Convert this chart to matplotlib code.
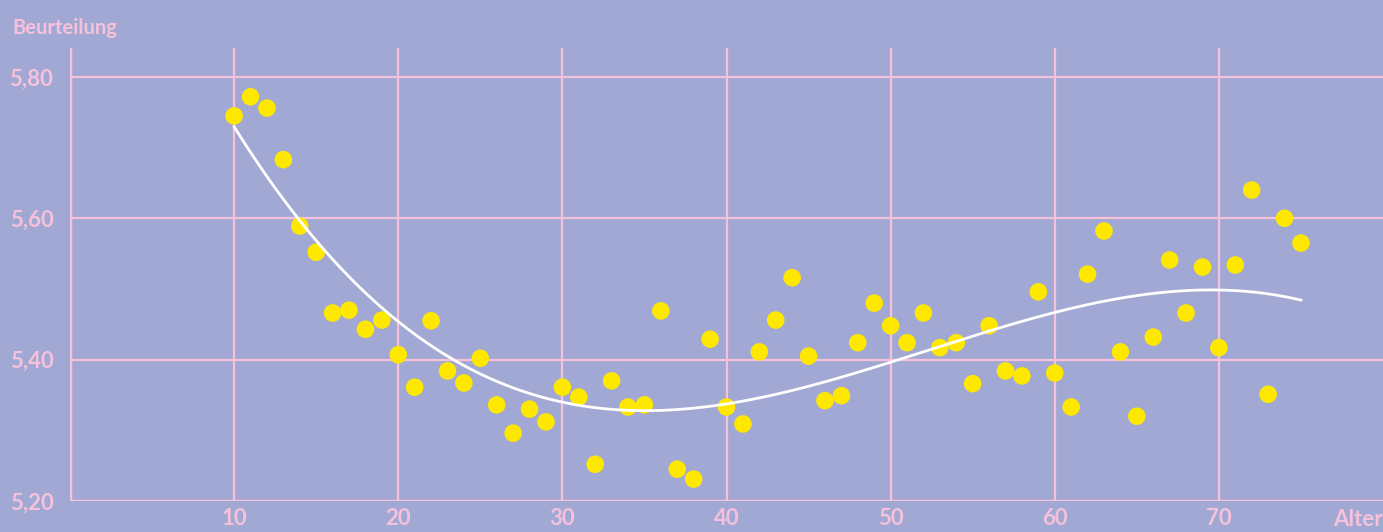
import numpy as np
import matplotlib
matplotlib.use("Agg")
import matplotlib.pyplot as plt

# Alter (x) and Beurteilung (y)
alter = list(range(10, 76))
beurteilung = [5.745, 5.772, 5.756, 5.683, 5.589, 5.552, 5.466, 5.470, 5.443, 5.456,
               5.407, 5.361, 5.455, 5.384, 5.367, 5.402, 5.336, 5.296, 5.330, 5.312,
               5.361, 5.347, 5.252, 5.370, 5.333, 5.336, 5.469, 5.245, 5.231, 5.429,
               5.333, 5.309, 5.411, 5.456, 5.516, 5.405, 5.342, 5.349, 5.424, 5.480,
               5.448, 5.424, 5.466, 5.417, 5.424, 5.366, 5.448, 5.384, 5.377, 5.496,
               5.381, 5.333, 5.521, 5.582, 5.411, 5.320, 5.432, 5.541, 5.466, 5.531,
               5.417, 5.534, 5.640, 5.351, 5.600, 5.565]
x_ticks = [10, 20, 30, 40, 50, 60, 70]
y_ticks = [5.20, 5.40, 5.60, 5.80]
y_labels = ["5,20", "5,40", "5,60", "5,80"]

bg = "#a1a8d3"
pink = "#f6c2db"
yellow = "#ffe800"

plt.rcParams['font.family'] = ['Lato', 'DejaVu Sans']

fig = plt.figure(figsize=(13.83, 5.32), dpi=100, facecolor=bg)
ax = fig.add_axes([70 / 1383, 31 / 532, 1313 / 1383, 453 / 532])
ax.set_facecolor(bg)
ax.set_xlim(0, 80)
ax.set_ylim(5.20, 5.841)

# grid
for t in x_ticks:
    ax.axvline(t, color=pink, lw=1.6, zorder=1)
for t in y_ticks[1:]:
    ax.axhline(t, color=pink, lw=1.6, zorder=1)
for s in ax.spines.values():
    s.set_visible(False)
ax.axvline(0, color=pink, lw=2.5, zorder=1)
ax.axhline(5.20, color=pink, lw=2.5, zorder=1)

# trend curve (cubic fit)
coef = np.polyfit(alter, beurteilung, 3)
xs = np.linspace(10, 75, 300)
ax.plot(xs, np.polyval(coef, xs), color="white", lw=2, zorder=3)

ax.scatter(alter, beurteilung, s=160, color=yellow, edgecolors="none", zorder=2, clip_on=False)

ax.set_xticks(x_ticks)
ax.set_xticklabels([str(t) for t in x_ticks])
ax.set_yticks(y_ticks)
ax.set_yticklabels(y_labels)
ax.tick_params(axis="x", length=0, colors=pink, labelsize=16, pad=5)
ax.tick_params(axis="y", length=0, colors=pink, labelsize=16, pad=12)
for lab in ax.get_xticklabels() + ax.get_yticklabels():
    lab.set_fontweight("bold")

fig.text(12 / 1383, 1 - 28 / 532, "Beurteilung", color=pink, fontsize=14.5,
         fontweight="bold", va="center", ha="left")
fig.text(1383 / 1383, 1 - 520 / 532, "Alter", color=pink, fontsize=16,
         fontweight="bold", va="center", ha="right")

fig.savefig("out.png", dpi=100, facecolor=bg)
